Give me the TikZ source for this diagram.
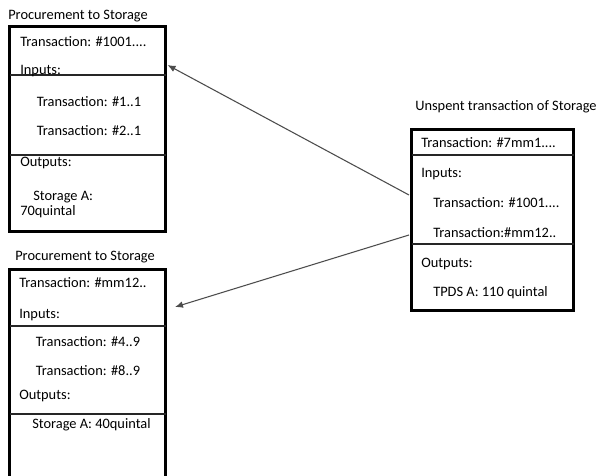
\documentclass[tikz,border=0pt]{standalone}
\usepackage{fontspec}
\setmainfont{Carlito}
\usetikzlibrary{arrows.meta}

\begin{document}
\begin{tikzpicture}[x=0.75pt,y=-0.75pt,
  box/.style={draw, line width=2.2pt, inner sep=0pt},
  sep/.style={draw=black!85, line width=0.8pt},
  txt/.style={anchor=base west, inner sep=0pt, font=\fontsize{10.8}{13}\selectfont},
  link/.style={draw=black!70, line width=0.8pt, -{Latex[length=6pt,width=5pt]}}]
\useasboundingbox (0,0) rectangle (602,475);
\clip (0,0) rectangle (602,475);

% boxes
\node [box, minimum width=117pt, minimum height=154pt] (proc1) at (87.5,129) {};
\node [box, minimum width=117pt, minimum height=160pt] (proc2) at (87.5,376) {};
\node [box, minimum width=121.5pt, minimum height=136pt] (unspent) at (492.5,220) {};

% dividers
\draw [sep] (9.5,75) -- (165.5,75);
\draw [sep] (9.5,155) -- (165.5,155);
\draw [sep] (9.5,326) -- (165.5,326);
\draw [sep] (9.5,414) -- (165.5,414);
\draw [sep] (411.5,155) -- (573.5,155);
\draw [sep] (411.5,244) -- (573.5,244);

% titles
\node [txt] (t1) at (8,19.5) {Procurement to Storage};
\node [txt] (t2) at (15,260) {Procurement to Storage};
\node [txt] (t3) at (415,110) {Unspent transaction of Storage};

% first box
\node [txt] (a1) at (20,46.5) {Transaction: \#1001....};
\node [txt] (a2) at (20,74) {Inputs:};
\node [txt] (a3) at (36.5,106) {Transaction: \#1..1};
\node [txt] (a4) at (36.5,135) {Transaction: \#2..1};
\node [txt] (a5) at (20,166.5) {Outputs:};
\node [txt] (a6) at (33,200) {Storage A:};
\node [txt] (a7) at (20,215) {70quintal};

% second box
\node [txt] (b1) at (19,287) {Transaction: \#mm12..};
\node [txt] (b2) at (19,318) {Inputs:};
\node [txt] (b3) at (35.5,346) {Transaction: \#4..9};
\node [txt] (b4) at (35.5,375) {Transaction: \#8..9};
\node [txt] (b5) at (19,399) {Outputs:};
\node [txt] (b6) at (32,428) {Storage A: 40quintal};

% unspent box
\node [txt] (c1) at (421,147) {Transaction: \#7mm1....};
\node [txt] (c2) at (421,177) {Inputs:};
\node [txt] (c3) at (433,207) {Transaction: \#1001....};
\node [txt] (c4) at (433,237) {Transaction:\#mm12..};
\node [txt] (c5) at (421,267) {Outputs:};
\node [txt] (c6) at (433,296) {TPDS A: 110 quintal};

% arrows
\coordinate (from1) at (409,195);
\coordinate (to1) at (167.5,65);
\coordinate (from2) at (409,235);
\coordinate (to2) at (175,307);
\draw [link] (from1) -- (to1);
\draw [link] (from2) -- (to2);

\end{tikzpicture}
\end{document}
